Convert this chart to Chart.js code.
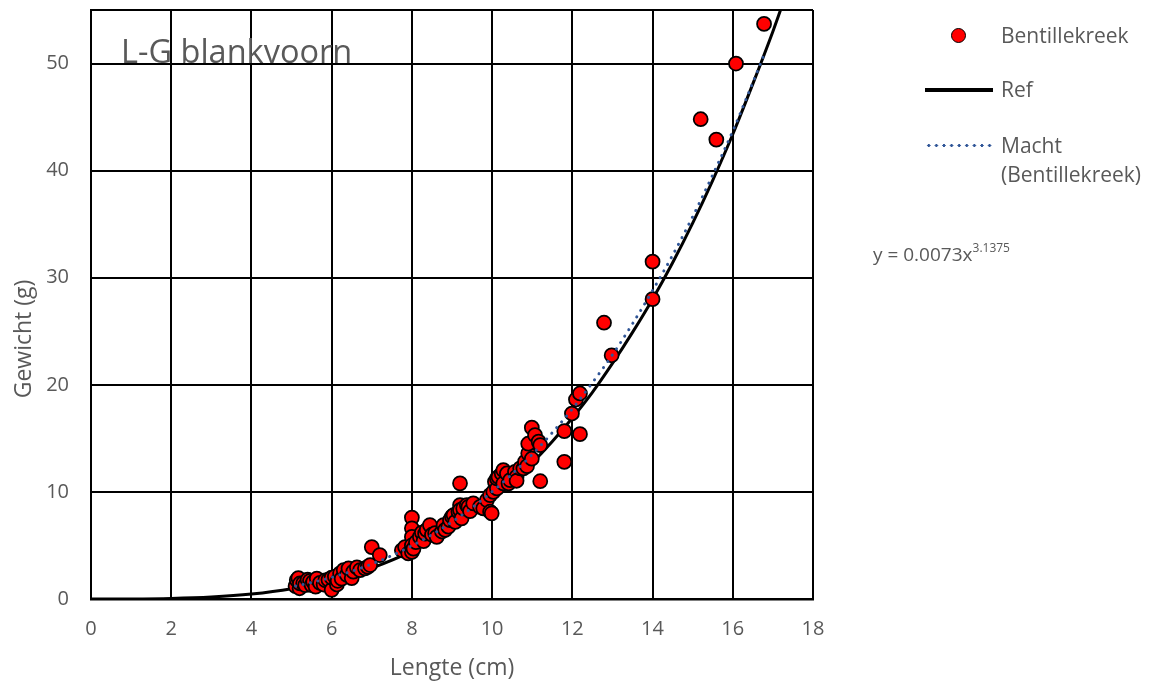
<!DOCTYPE html>
<html>
<head>
<meta charset="utf-8">
<script src="https://cdn.jsdelivr.net/npm/chart.js@4.4.0/dist/chart.umd.min.js"></script>
<style>
  html, body { margin: 0; padding: 0; background: #ffffff; }
  #wrap { position: relative; width: 1150px; height: 684px; font-family: "Open Sans", sans-serif; color: #595959; }
  #c { position: absolute; left: 0; top: 0; }
  .lg { position: absolute; font-size: 21px; line-height: 20px; white-space: nowrap; }
  .sym { position: absolute; }
  #title { position: absolute; left: 121px; top: 35px; font-size: 32.5px; line-height: 32px; color: #595959; white-space: nowrap; }
  #ytitle { position: absolute; left: -78px; top: 326px; width: 200px; height: 26px; line-height: 26px; text-align: center;
            font-size: 23px; transform: rotate(-90deg); transform-origin: 50% 50%; white-space: nowrap; }
</style>
</head>
<body>
<div id="wrap">
  <canvas id="c" width="1150" height="684"></canvas>
  <div id="title">L-G blankvoorn</div>
  <div id="ytitle">Gewicht (g)</div>
  <div class="sym" style="left:951px;top:28px;width:13px;height:13px;border-radius:50%;background:#ff0000;border:1.75px solid #000;"></div>
  <div class="lg" style="left:1001px;top:25px;">Bentillekreek</div>
  <div class="sym" style="left:925px;top:88px;width:68px;height:3.5px;background:#000;"></div>
  <div class="lg" style="left:1001px;top:79px;">Ref</div>
  <div class="sym" style="left:925px;top:144px;width:70px;height:3px;background-image:radial-gradient(circle, #2f5597 1.4px, transparent 1.6px);background-size:7.6px 3px;background-repeat:repeat-x;"></div>
  <div class="lg" style="left:1001px;top:135px;">Macht</div>
  <div class="lg" style="left:1001px;top:164px;">(Bentillekreek)</div>
  <div class="lg" style="left:873px;top:240px;font-size:19px;">y = 0.0073x<sup style="font-size:12px;position:relative;top:-2px;">3.1375</sup></div>
</div>
<script>
const lengthCm = [
  5.10,5.13,5.17,5.20,5.21,5.29,5.34,5.40,5.46,5.50,5.54,5.60,5.63,5.71,5.80,5.84,5.92,6.00,6.00,6.08,
  6.13,6.15,6.21,6.25,6.30,6.38,6.42,6.50,6.54,6.63,6.71,6.83,6.90,6.96,7.00,7.20,
  7.75,7.83,7.91,8.00,8.00,8.00,8.00,8.00,8.04,8.10,8.20,8.25,8.29,8.33,8.37,8.45,8.50,8.58,8.62,
  8.75,8.79,8.83,8.91,8.95,9.00,9.04,9.08,9.16,9.20,9.20,9.20,9.24,9.28,9.37,9.41,9.45,9.53,9.70,
  9.78,9.87,9.95,9.95,9.99,10.03,10.07,10.12,10.12,10.16,10.24,10.28,10.28,10.37,10.41,10.45,10.57,
  10.61,10.61,10.70,10.78,10.82,10.87,10.90,10.90,10.99,10.99,11.07,11.16,11.20,11.20,11.80,11.80,
  11.99,12.09,12.19,12.19,12.79,12.98,14.00,14.00,15.20,15.59,16.08,16.78
];
const weightG = [
  1.20,1.77,1.95,1.00,1.45,1.46,1.30,1.80,1.70,1.30,1.60,1.15,1.90,1.50,1.35,1.75,1.80,0.85,2.00,2.10,
  1.35,1.70,2.40,1.90,2.70,2.25,2.85,1.95,2.55,2.95,2.70,2.86,3.00,3.17,4.85,4.10,
  4.55,4.85,4.25,7.60,6.60,5.80,5.00,4.40,4.70,5.30,5.80,6.20,5.40,6.10,6.45,6.90,6.00,6.15,5.80,
  6.30,6.90,6.45,6.75,7.37,7.70,7.84,7.20,8.15,8.77,10.80,8.30,7.53,8.46,8.77,8.60,8.20,8.93,8.60,
  8.46,9.24,9.70,8.15,8.00,10.00,10.94,10.32,11.26,11.40,11.72,10.79,12.03,11.72,10.79,11.10,11.88,
  11.41,11.04,12.20,12.19,12.80,12.40,13.60,14.50,13.10,16.00,15.30,14.70,14.37,11.00,15.67,12.81,
  17.32,18.63,19.19,15.39,25.80,22.76,31.50,28.00,44.80,42.90,50.00,53.70
];
// Reference curve
const refX = [0,1,2,3,4,5,6,7,8,9,10,10.5,11,11.5,12,12.5,13,13.5,14,14.5,15,15.5,16,16.5,17,17.2];
const refY = [0,0.005,0.047,0.18,0.46,0.96,1.74,2.89,4.47,6.58,9.3,10.9,12.7,14.7,16.9,19.3,22.0,24.9,28.0,31.4,35.1,39.1,43.4,48.1,53.0,55.1];
// Power trendline (Macht)
const trendX = [5.1,5.5,6,6.5,7,7.5,8,8.5,9,9.5,10,10.5,11,11.5,12,12.5,13,13.5,14,14.5,15,15.5,16,16.4,16.8];
const trendY = [1.21,1.54,2.02,2.59,3.27,4.06,4.98,6.01,7.20,8.53,10.02,11.68,13.5,15.53,17.75,20.2,22.8,25.7,28.8,32.1,35.7,39.6,43.7,47.3,51.0];
// Axis ticks
const xTicks = [0,2,4,6,8,10,12,14,16,18];
const yTicks = [0,10,20,30,40,50];

const toXY = (xs, ys) => xs.map((x, i) => ({ x: x, y: ys[i] }));

new Chart(document.getElementById('c'), {
  type: 'scatter',
  data: {
    datasets: [
      {
        label: 'Macht (Bentillekreek)',
        data: toXY(trendX, trendY),
        showLine: true,
        borderColor: '#2f5597',
        borderWidth: 3,
        borderDash: [0.1, 7.5],
        borderCapStyle: 'round',
        pointRadius: 0,
        cubicInterpolationMode: 'monotone',
        order: 0
      },
      {
        label: 'Bentillekreek',
        data: toXY(lengthCm, weightG),
        backgroundColor: '#ff0000',
        borderColor: '#000000',
        borderWidth: 1.75,
        pointRadius: 7,
        order: 1
      },
      {
        label: 'Ref',
        data: toXY(refX, refY),
        showLine: true,
        borderColor: '#000000',
        borderWidth: 3,
        pointRadius: 0,
        cubicInterpolationMode: 'monotone',
        order: 2
      }
    ]
  },
  options: {
    responsive: false,
    animation: false,
    layout: { padding: { top: 10, right: 337, left: 0, bottom: 0 } },
    plugins: { legend: { display: false }, tooltip: { enabled: false } },
    scales: {
      x: {
        type: 'linear',
        min: 0, max: 18,
        afterBuildTicks: s => { s.ticks = xTicks.map(v => ({ value: v })); },
        afterFit: s => { s.height = 85; s.paddingLeft = 0; s.paddingRight = 0; },
        border: { color: '#000', width: 2.5 },
        grid: { color: '#000', lineWidth: 2, drawTicks: false },
        ticks: { color: '#595959', font: { family: 'Open Sans', size: 20 }, padding: 18 },
        title: { display: true, text: 'Lengte (cm)', color: '#595959', font: { family: 'Open Sans', size: 23 }, padding: { top: 0, bottom: 2 } }
      },
      y: {
        type: 'linear',
        min: 0, max: 55,
        afterBuildTicks: s => { s.ticks = yTicks.concat([55]).map(v => ({ value: v })); },
        afterFit: s => { s.width = 91; s.paddingTop = 0; s.paddingBottom = 0; },
        border: { color: '#000', width: 2 },
        grid: { color: '#000', lineWidth: 2, drawTicks: false },
        ticks: { color: '#595959', font: { family: 'Open Sans', size: 20 }, padding: 22,
                 callback: v => (v === 55 ? '' : v) },
        title: { display: false }
      }
    }
  }
});
</script>
</body>
</html>
